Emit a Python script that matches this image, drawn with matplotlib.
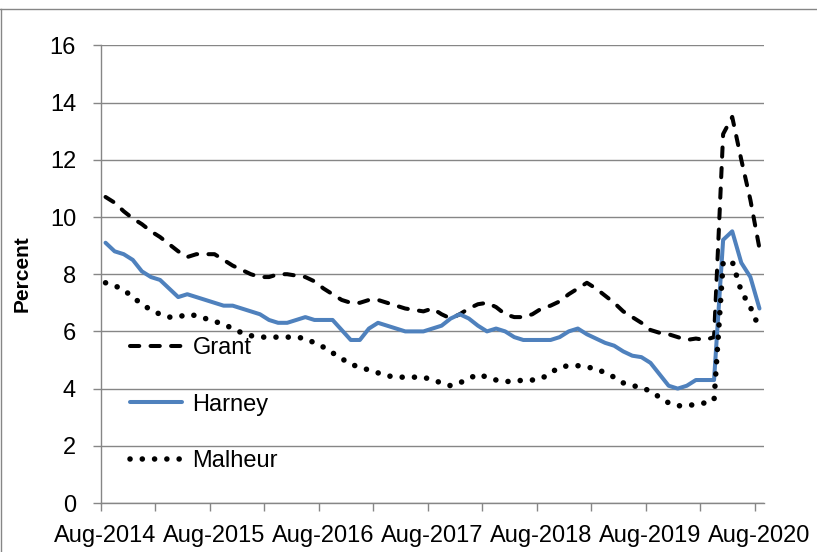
import numpy as np
import pandas as pd
import matplotlib
matplotlib.use("Agg")
import matplotlib.pyplot as plt
from matplotlib.lines import Line2D

# monthly rates, Aug-2014 .. Aug-2020
months = pd.date_range("2014-08-01", periods=73, freq="MS")

grant = [10.7, 10.5, 10.2, 9.95, 9.75, 9.5, 9.3, 9.05, 8.8, 8.6,
         8.7, 8.7, 8.7, 8.5, 8.3, 8.15, 8.0, 7.9, 7.9, 8.0,
         8.0, 7.95, 7.9, 7.75, 7.5, 7.3, 7.1, 7.0, 7.0, 7.1,
         7.1, 7.0, 6.9, 6.8, 6.75, 6.7, 6.8, 6.6, 6.45, 6.6,
         6.8, 6.95, 7.0, 6.85, 6.6, 6.5, 6.5, 6.6, 6.8, 6.9,
         7.05, 7.3, 7.5, 7.7, 7.5, 7.25, 7.0, 6.7, 6.5, 6.3,
         6.05, 5.95, 5.9, 5.8, 5.7, 5.75, 5.7, 5.8, 12.9, 13.5,
         12.0, 10.6, 8.9]
harney = [9.1, 8.8, 8.7, 8.5, 8.1, 7.9, 7.8, 7.5, 7.2, 7.3,
          7.2, 7.1, 7.0, 6.9, 6.9, 6.8, 6.7, 6.6, 6.4, 6.3,
          6.3, 6.4, 6.5, 6.4, 6.4, 6.4, 6.05, 5.7, 5.7, 6.1,
          6.3, 6.2, 6.1, 6.0, 6.0, 6.0, 6.1, 6.2, 6.45, 6.6,
          6.45, 6.2, 6.0, 6.1, 6.0, 5.8, 5.7, 5.7, 5.7, 5.7,
          5.8, 6.0, 6.1, 5.9, 5.75, 5.6, 5.5, 5.3, 5.15, 5.1,
          4.9, 4.5, 4.1, 4.0, 4.1, 4.3, 4.3, 4.3, 9.2, 9.5,
          8.4, 7.9, 6.8]
malheur = [7.7, 7.6, 7.45, 7.2, 6.95, 6.75, 6.6, 6.5, 6.5, 6.6,
           6.55, 6.45, 6.35, 6.25, 6.1, 5.95, 5.85, 5.8, 5.8, 5.8,
           5.8, 5.8, 5.75, 5.6, 5.45, 5.25, 5.05, 4.85, 4.75, 4.65,
           4.55, 4.45, 4.4, 4.4, 4.4, 4.4, 4.3, 4.2, 4.1, 4.2,
           4.35, 4.5, 4.4, 4.3, 4.25, 4.25, 4.3, 4.3, 4.35, 4.55,
           4.75, 4.8, 4.8, 4.75, 4.7, 4.55, 4.4, 4.2, 4.1, 4.05,
           3.9, 3.7, 3.5, 3.4, 3.4, 3.45, 3.5, 3.6, 8.4, 8.45,
           7.4, 6.85, 6.1]

yticks = np.arange(0, 17, 2)
GRAY = "#868686"


def draw():
    plt.rcParams["font.family"] = ["Liberation Sans", "DejaVu Sans"]
    fig = plt.figure(figsize=(8.17, 5.52), dpi=100)
    ax = fig.add_axes([101 / 817, 49 / 552, 663 / 817, 457.6 / 552])

    x = np.arange(len(months))
    ax.plot(x, grant, color="black", lw=2.9, label="Grant",
            dashes=(2.3, 2.8), dash_capstyle="round")
    ax.plot(x, harney, color="#4F81BD", lw=2.9, label="Harney",
            solid_capstyle="round")
    ax.plot(x, malheur, color="black", lw=4.0, label="Malheur",
            dashes=(0.01, 2.2), dash_capstyle="round")

    ax.set_xlim(-0.5, len(months) - 0.5)
    ax.set_ylim(0, 16)
    ax.set_yticks(yticks)
    ax.grid(axis="y", color=GRAY, lw=1.0)
    ax.set_axisbelow(True)

    # tick marks on category boundaries, labels on every 12th month
    ax.set_xticks(np.arange(0, len(months), 6) - 0.5)
    ax.set_xticklabels([])
    lab_pos = np.arange(0, len(months), 12)
    ax.set_xticks(lab_pos, minor=True)
    ax.set_xticklabels([months[i].strftime("%b-%Y") for i in lab_pos], minor=True)
    ax.tick_params(axis="x", which="major", length=6, color=GRAY, width=1)
    ax.tick_params(axis="x", which="minor", length=0, pad=16, labelsize=17)
    ax.tick_params(axis="y", length=6, color=GRAY, width=1, pad=12, labelsize=17)

    for s in ["top", "right"]:
        ax.spines[s].set_visible(False)
    for s in ["left", "bottom"]:
        ax.spines[s].set_color(GRAY)
        ax.spines[s].set_linewidth(1.0)

    fig.text(22 / 817, 0.504, "Percent", rotation=90, fontsize=15,
             fontweight="bold", ha="center", va="center")

    ax.legend(loc="upper left", bbox_to_anchor=(0.0437, 0.362), frameon=False,
              fontsize=17, handlelength=2.2, handletextpad=0.45,
              labelspacing=1.45, borderpad=0, borderaxespad=0)

    # chart area border (top and left edge visible)
    top = 1 - 9 / 552
    fig.add_artist(Line2D([0, 1], [top, top], color=GRAY, lw=1.0))
    fig.add_artist(Line2D([0.6 / 817, 0.6 / 817], [0, top], color=GRAY, lw=1.0))

    fig.savefig("out.png", dpi=100)
    plt.close(fig)


if __name__ == "__main__":
    draw()
